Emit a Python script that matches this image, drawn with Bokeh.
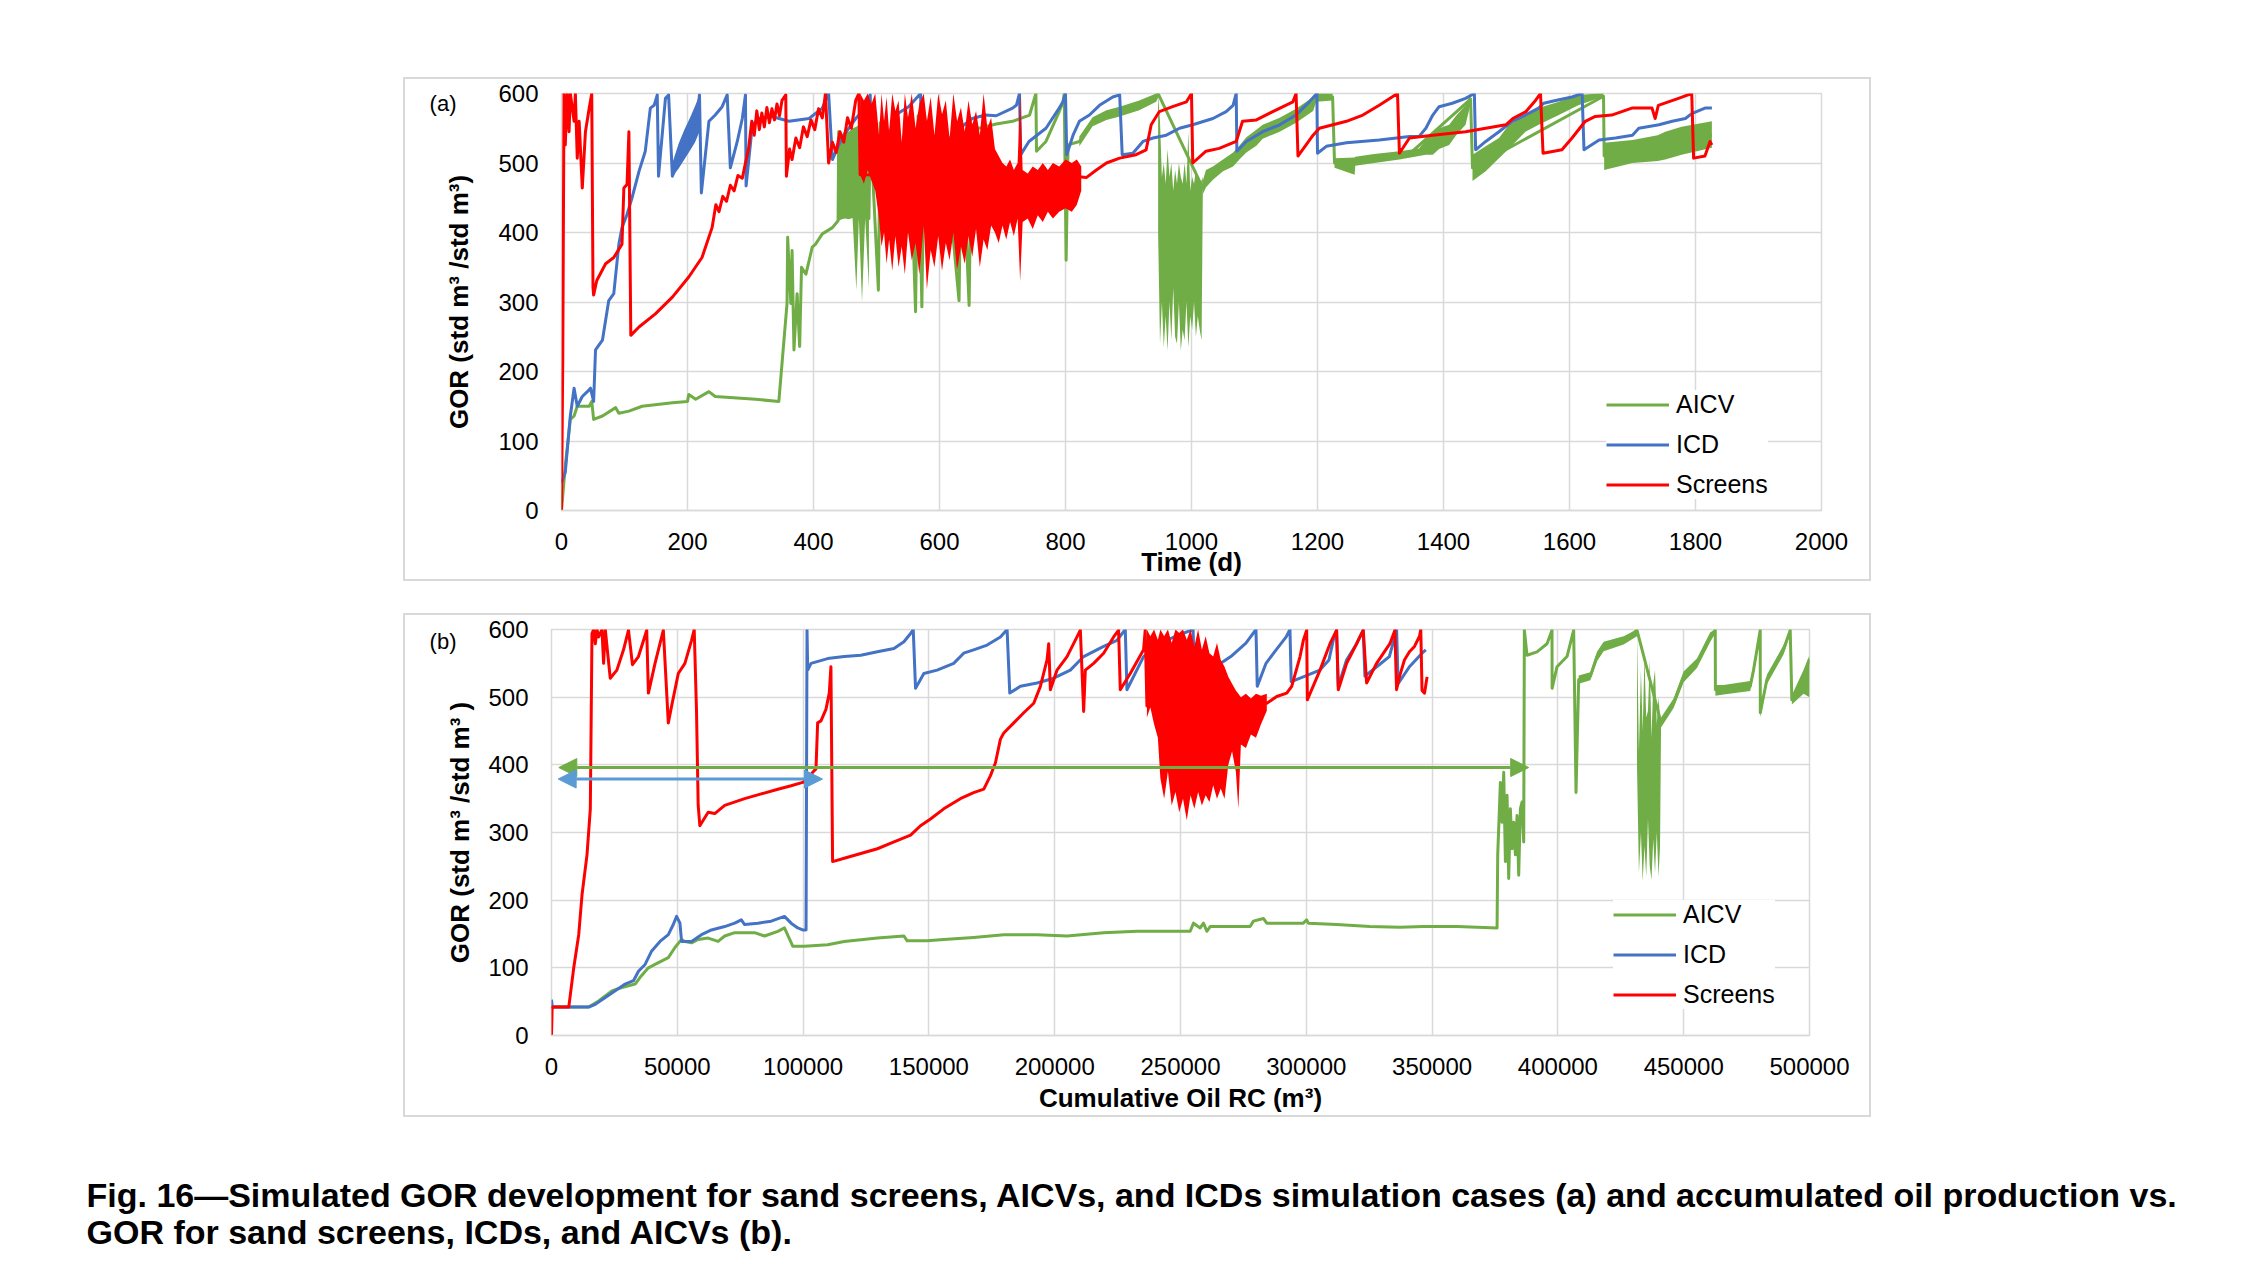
from bokeh.plotting import figure
from bokeh.layouts import column, row
from bokeh.models import (Spacer, Legend, Label, FixedTicker, NumeralTickFormatter,
                          Range1d, Arrow, NormalHead, LinearAxis)
from bokeh.embed import file_html
from bokeh.resources import INLINE

FONT = "Liberation Sans"
GREEN = "#70ad47"
BLUE = "#4472c4"
RED = "#ff0000"
ARROW_BLUE = "#5b9bd5"
GRID = "#d9d9d9"

y_ticks = [0, 100, 200, 300, 400, 500, 600]
a_x_ticks = [0, 200, 400, 600, 800, 1000, 1200, 1400, 1600, 1800, 2000]
b_x_ticks = [0, 50000, 100000, 150000, 200000, 250000, 300000, 350000, 400000, 450000, 500000]
series_names = ["AICV", "ICD", "Screens"]

# ---------------- Panel (a): GOR vs time (d) ----------------
a_aicv_t = [0, 6, 14, 20, 25, 44, 48, 51, 65, 86, 91, 107, 128, 176, 200, 202, 213, 234, 244, 308, 345, 358, 359, 364, 366, 369, 374, 378, 381, 388, 398, 403, 414, 430, 439, 440, 488, 490, 503, 506, 522, 526, 548, 552, 562, 566, 572, 576, 600, 604, 631, 635, 647, 651, 663, 690, 716, 743, 753, 754, 769, 790, 796, 798, 801, 804, 822, 843, 865, 886, 917, 944, 947, 1018, 1050, 1103, 1166, 1198, 1224, 1227, 1346, 1443, 1446, 1654, 1655, 1826]
a_aicv_g = [0, 64, 131, 136, 150, 150, 157, 131, 136, 148, 140, 143, 150, 155, 157, 167, 160, 171, 164, 160, 157, 298, 393, 298, 374, 231, 312, 236, 350, 340, 379, 383, 398, 407, 417, 545, 420, 555, 317, 558, 420, 562, 430, 566, 286, 568, 293, 568, 440, 565, 302, 560, 295, 555, 550, 556, 560, 569, 600, 517, 531, 574, 588, 600, 360, 526, 531, 560, 569, 574, 583, 595, 600, 464, 497, 537, 568, 595, 595, 500, 513, 592, 493, 596, 510, 540]

a_aicv_bands = [
    ([440, 445, 450, 456, 462, 468, 472, 477, 482, 488],
     [417, 419, 420, 419, 421, 317, 420, 300, 420, 321],
     [545, 540, 548, 545, 550, 552, 555, 540, 556, 555]),
    ([822, 843, 865, 886, 917, 944, 947],
     [524, 553, 562, 567, 576, 588, 594],
     [538, 566, 576, 581, 590, 600, 600]),
    ([947, 950, 953, 956, 959, 962, 965, 968, 971, 974, 977, 980, 983, 986, 989, 992, 995, 998, 1001, 1004, 1007, 1010, 1013, 1016, 1018],
     [400, 240, 300, 235, 280, 230, 300, 245, 320, 250, 240, 300, 230, 260, 245, 300, 235, 280, 260, 300, 250, 280, 260, 245, 460],
     [600, 560, 480, 500, 470, 520, 480, 500, 460, 490, 470, 500, 480, 470, 500, 470, 545, 460, 480, 470, 490, 480, 470, 475, 480]),
    ([1018, 1023, 1034, 1050, 1066, 1076, 1087, 1103, 1113, 1140, 1166, 1193, 1198, 1224],
     [455, 465, 476, 488, 495, 505, 515, 525, 535, 545, 558, 575, 588, 590],
     [475, 490, 495, 505, 515, 525, 537, 548, 555, 565, 578, 595, 600, 600]),
    ([1227, 1259, 1260, 1290, 1330, 1361, 1372, 1383, 1393, 1409, 1420, 1435, 1443],
     [493, 483, 496, 500, 505, 510, 512, 512, 520, 526, 540, 555, 585],
     [507, 508, 509, 513, 517, 521, 533, 545, 550, 555, 568, 583, 600]),
    ([1446, 1467, 1488, 1504, 1530, 1551, 1583, 1614, 1646, 1654],
     [474, 488, 507, 521, 545, 555, 569, 583, 593, 593],
     [512, 524, 536, 555, 569, 579, 588, 598, 600, 600]),
    ([1655, 1700, 1740, 1752, 1778, 1826],
     [490, 500, 503, 505, 512, 522],
     [529, 533, 540, 545, 552, 560]),
]

a_icd_t = [0, 1, 6, 14, 20, 25, 33, 41, 46, 51, 54, 65, 75, 83, 91, 96, 104, 112, 123, 133, 141, 147, 152, 154, 165, 170, 176, 186, 202, 215, 219, 222, 234, 244, 255, 263, 268, 279, 287, 292, 293, 303, 313, 334, 361, 393, 414, 424, 430, 445, 467, 482, 490, 493, 509, 520, 530, 551, 570, 572, 585, 599, 625, 652, 673, 690, 716, 722, 727, 729, 742, 769, 790, 796, 800, 802, 812, 822, 838, 854, 875, 886, 890, 907, 923, 939, 960, 981, 1002, 1034, 1055, 1066, 1071, 1072, 1087, 1113, 1140, 1166, 1187, 1199, 1200, 1214, 1246, 1298, 1346, 1361, 1372, 1383, 1393, 1414, 1435, 1449, 1451, 1467, 1488, 1509, 1530, 1551, 1559, 1578, 1604, 1620, 1623, 1647, 1673, 1700, 1710, 1742, 1763, 1784, 1794, 1815, 1826]
a_icd_g = [40, 42, 55, 136, 176, 150, 164, 171, 176, 157, 231, 245, 302, 312, 383, 407, 426, 450, 488, 517, 579, 583, 598, 481, 593, 598, 481, 502, 540, 564, 598, 457, 560, 569, 581, 598, 493, 531, 564, 598, 467, 555, 564, 567, 560, 564, 579, 600, 505, 536, 564, 579, 598, 498, 512, 540, 569, 581, 600, 500, 505, 517, 545, 564, 569, 568, 579, 583, 600, 512, 531, 550, 579, 588, 600, 512, 540, 560, 569, 583, 595, 598, 512, 514, 531, 536, 540, 550, 555, 564, 574, 583, 600, 517, 531, 545, 555, 569, 588, 600, 514, 524, 529, 533, 538, 538, 550, 569, 581, 586, 593, 600, 519, 531, 545, 560, 569, 579, 586, 590, 595, 600, 519, 533, 536, 540, 550, 555, 560, 564, 571, 579, 579]
a_icd_bands = [
    ([176, 186, 195, 204, 212, 219],
     [481, 492, 505, 518, 530, 545],
     [500, 528, 548, 565, 582, 598]),
]

a_scr_t = [0, 2, 4, 6, 9, 12, 14, 20, 22, 25, 28, 33, 38, 44, 48, 50, 51, 56, 70, 83, 96, 99, 104, 107, 110, 123, 149, 176, 202, 223, 239, 245, 250, 256, 262, 268, 274, 280, 287, 292, 297, 302, 306, 310, 314, 318, 322, 326, 330, 334, 338, 342, 346, 350, 356, 357, 362, 366, 372, 378, 384, 390, 396, 402, 408, 414, 419, 424, 430, 436, 442, 448, 454, 460, 467, 472, 474, 825, 833, 849, 865, 886, 912, 928, 936, 949, 970, 992, 1000, 1002, 1023, 1044, 1071, 1081, 1103, 1129, 1161, 1166, 1169, 1193, 1203, 1246, 1272, 1298, 1327, 1330, 1346, 1383, 1435, 1499, 1510, 1531, 1546, 1554, 1558, 1588, 1604, 1625, 1641, 1667, 1699, 1731, 1736, 1741, 1773, 1794, 1797, 1815, 1823, 1826]
a_scr_g = [0, 217, 600, 526, 600, 545, 600, 560, 600, 507, 560, 464, 545, 579, 600, 321, 310, 331, 355, 364, 383, 464, 469, 545, 252, 264, 283, 307, 336, 364, 407, 440, 430, 452, 445, 468, 460, 482, 478, 500, 521, 560, 540, 575, 548, 572, 552, 580, 558, 578, 562, 585, 568, 590, 598, 481, 520, 505, 536, 522, 552, 538, 562, 548, 578, 565, 600, 500, 530, 515, 545, 530, 565, 550, 590, 600, 483, 480, 479, 490, 500, 507, 512, 519, 555, 574, 581, 588, 600, 500, 517, 521, 531, 560, 562, 574, 588, 600, 510, 540, 550, 560, 569, 583, 600, 514, 536, 540, 545, 555, 564, 574, 590, 600, 514, 519, 536, 560, 567, 569, 579, 579, 564, 583, 593, 600, 507, 510, 531, 526]

a_scr_band_t = [474, 480, 486, 492, 498, 504, 508, 512, 516, 520, 525, 530, 535, 540, 545, 550, 556, 562, 568, 575, 580, 586, 592, 598, 604, 610, 616, 622, 628, 634, 640, 646, 652, 658, 664, 670, 676, 682, 688, 694, 700, 706, 712, 718, 724, 728, 732, 740, 748, 756, 764, 772, 780, 790, 800, 810, 818, 825]
a_scr_band_lo = [483, 470, 490, 475, 460, 420, 380, 400, 355, 390, 345, 395, 350, 380, 340, 400, 360, 385, 340, 410, 318, 375, 350, 395, 345, 385, 360, 400, 345, 380, 355, 395, 365, 405, 350, 390, 375, 410, 400, 385, 410, 390, 415, 395, 420, 330, 415, 420, 405, 425, 415, 430, 420, 430, 435, 430, 440, 460]
a_scr_band_hi = [600, 590, 600, 585, 600, 540, 600, 560, 595, 545, 600, 575, 590, 530, 600, 565, 600, 550, 585, 600, 560, 595, 540, 600, 570, 590, 535, 600, 560, 580, 545, 590, 555, 575, 540, 600, 550, 565, 520, 510, 500, 495, 505, 490, 500, 600, 490, 485, 495, 490, 500, 490, 500, 495, 505, 500, 505, 495]

# ---------------- Panel (b): GOR vs cumulative oil (m3) ----------------
b_aicv_x = [0, 14770, 18730, 24010, 27960, 33240, 35220, 38510, 41150, 46430, 49070, 51700, 53020, 55660, 58300, 62260, 66210, 68850, 72810, 80720, 84680, 89960, 92590, 95890, 100510, 109740, 116340, 129530, 140080, 141400, 149310, 155900, 167780, 179760, 192990, 204900, 219450, 232680, 253850, 255170, 257820, 259140, 260460, 261790, 277660, 278980, 282950, 284280, 298830, 300150, 300810, 312060, 325290, 337200, 346690, 359930, 375820, 376080, 377140, 377800, 378470, 379130, 379790, 380450, 381110, 381770, 382440, 383100, 383760, 384420, 385090, 385750, 386410, 386670, 387730, 391700, 395680, 397660, 397700, 399650, 403620, 406270, 407200, 408260, 412890, 415540, 418190, 426130, 431430, 441000, 445990, 449960, 455260, 460560, 462540, 462600, 465850, 476440, 477760, 480410, 480450, 483060, 489680, 492330, 492990, 497620, 500000]
b_aicv_y = [42, 42, 51, 66, 71, 76, 86, 100, 105, 115, 130, 142, 139, 137, 142, 144, 139, 147, 152, 152, 147, 154, 159, 132, 132, 134, 139, 144, 147, 140, 140, 142, 145, 149, 149, 147, 152, 154, 154, 166, 159, 166, 154, 161, 161, 169, 173, 166, 166, 171, 166, 164, 161, 160, 161, 161, 159, 267, 374, 315, 389, 257, 355, 232, 335, 276, 315, 267, 325, 237, 335, 345, 286, 599, 562, 567, 579, 599, 513, 545, 560, 599, 359, 526, 531, 560, 575, 584, 599, 462, 491, 530, 550, 589, 599, 511, 511, 516, 540, 599, 477, 526, 570, 599, 496, 530, 556]

b_aicv_bands = [
    ([408260, 412890, 415540, 418190, 426130, 431430],
     [520, 525, 553, 568, 578, 590],
     [532, 537, 567, 582, 590, 600]),
    ([431430, 432200, 433000, 433700, 434400, 435100, 435800, 436500, 437200, 437900, 438600, 439300, 440000, 440600, 441000],
     [400, 240, 300, 228, 280, 235, 320, 250, 230, 290, 240, 300, 235, 280, 460],
     [599, 420, 540, 450, 560, 470, 480, 555, 440, 520, 540, 460, 500, 470, 470]),
    ([441000, 445990, 449960, 455260, 460560, 462540],
     [455, 484, 522, 543, 582, 594],
     [470, 498, 538, 557, 596, 600]),
    ([462600, 465850, 476440, 477760, 480410],
     [502, 504, 509, 532, 594],
     [518, 518, 524, 548, 600]),
    ([480450, 483060, 489680, 492330],
     [470, 519, 563, 594],
     [484, 533, 577, 600]),
    ([492990, 497620, 500000],
     [489, 505, 500],
     [503, 540, 562]),
]

b_icd_x = [0, 300, 14770, 17410, 21370, 25320, 29280, 32580, 34560, 37200, 39830, 43130, 46430, 48410, 49730, 51050, 51700, 55660, 59620, 63580, 68850, 72810, 75450, 76770, 82040, 87320, 92590, 95230, 97870, 99850, 101170, 101560, 101830, 103150, 109740, 116340, 122930, 129530, 136120, 140080, 142720, 143770, 144690, 147990, 153270, 159860, 163820, 167780, 173140, 178430, 181080, 182140, 186370, 192990, 199600, 206220, 211510, 219450, 224740, 228050, 228710, 235320, 241940, 248000, 255000, 255700, 262000, 270000, 276000, 280000, 280500, 284000, 288000, 292000, 293500, 294000, 298800, 305400, 309000, 310700, 312000, 312700, 316000, 320000, 322600, 323300, 328000, 333000, 335900, 336500, 341000, 346000, 347500]
b_icd_y = [53, 42, 42, 46, 56, 66, 76, 81, 95, 105, 125, 139, 149, 164, 176, 166, 139, 139, 149, 156, 161, 166, 171, 164, 166, 169, 176, 166, 159, 156, 156, 599, 540, 550, 557, 560, 562, 567, 572, 582, 594, 600, 513, 535, 540, 550, 565, 570, 577, 589, 600, 506, 516, 521, 528, 540, 560, 575, 584, 600, 511, 560, 579, 590, 600, 515, 540, 560, 580, 600, 516, 550, 570, 589, 600, 523, 530, 540, 555, 584, 599, 516, 555, 579, 599, 531, 545, 560, 599, 520, 545, 565, 570]

b_scr_x = [0, 260, 6860, 8840, 10820, 12130, 14110, 15430, 16090, 16750, 17410, 18070, 18730, 20050, 20710, 21370, 23350, 25980, 28620, 30600, 32180, 34560, 37850, 38510, 41150, 44450, 46430, 47750, 50390, 53020, 55660, 56720, 57640, 58300, 58960, 62260, 64890, 68850, 76770, 83360, 89960, 95230, 99850, 101830, 103810, 105120, 105780, 107100, 109080, 110400, 111060, 111720, 116340, 122930, 129530, 136120, 142720, 146670, 150630, 155900, 162500, 167780, 171820, 174470, 176450, 178430, 179760, 183730, 187700, 191670, 194310, 196960, 197620, 198280, 200930, 204900, 208860, 210190, 211510, 212170, 215480, 219450, 223420, 225400, 226060, 230030, 235320, 235980, 236650, 284300, 288250, 292220, 294200, 297510, 298830, 300150, 300420, 305440, 309410, 312060, 312720, 316030, 320000, 322640, 323970, 327930, 333220, 335210, 335870, 337000, 339000, 341000, 343000, 345000, 345500, 346000, 347000, 348000]
b_scr_y = [0, 42, 42, 100, 149, 208, 267, 335, 594, 600, 579, 600, 589, 600, 550, 600, 528, 540, 570, 599, 548, 560, 599, 506, 550, 599, 462, 487, 535, 550, 584, 600, 479, 340, 310, 330, 328, 340, 350, 357, 364, 369, 374, 379, 389, 394, 462, 465, 482, 506, 545, 257, 262, 269, 276, 286, 296, 310, 320, 335, 350, 359, 364, 384, 403, 438, 447, 462, 477, 491, 516, 555, 579, 511, 540, 560, 589, 599, 479, 540, 550, 565, 589, 599, 511, 535, 570, 599, 487, 491, 501, 506, 516, 560, 584, 599, 496, 540, 579, 599, 511, 550, 579, 599, 521, 550, 579, 599, 511, 530, 555, 567, 575, 590, 600, 510, 506, 530]

b_scr_band_x = [236650, 238000, 239500, 241000, 242000, 243500, 245000, 246500, 248000, 249500, 251000, 252500, 254000, 255500, 257000, 258500, 260000, 261500, 263000, 264500, 266000, 267500, 269000, 270500, 272000, 273000, 274000, 276000, 278000, 280000, 282000, 284300]
b_scr_band_lo = [470, 485, 460, 440, 380, 350, 390, 340, 360, 330, 350, 318, 355, 335, 360, 340, 355, 345, 370, 350, 365, 350, 400, 420, 390, 335, 430, 425, 445, 440, 460, 480]
b_scr_band_hi = [600, 590, 600, 585, 600, 590, 600, 580, 600, 595, 600, 585, 600, 575, 600, 570, 590, 565, 560, 580, 555, 545, 530, 520, 510, 505, 500, 505, 498, 505, 502, 505]

# double-headed arrows in panel (b): [x_start, x_end, y]
arrow_aicv = [2900, 388400, 396]
arrow_icd = [2640, 107700, 379]

caption_lines = [
    "Fig. 16\u2014Simulated GOR development for sand screens, AICVs, and ICDs simulation cases (a) and accumulated oil production vs.",
    "GOR for sand screens, ICDs, and AICVs (b).",
]


def make_panel(xmax, xticks, w, h, ml, mr, mt, mb, xlabel, ylabel,
               y_tick_standoff, y_label_standoff, x_tick_standoff, x_label_standoff):
    p = figure(width=w, height=h, x_range=Range1d(0, xmax), y_range=Range1d(0, 600),
               output_backend="svg", toolbar_location=None,
               min_border_left=ml, min_border_right=mr, min_border_top=mt, min_border_bottom=mb)
    p.styles = {"border": "2px solid #d9d9d9"}
    p.background_fill_color = "white"
    p.border_fill_color = "white"
    p.outline_line_color = GRID
    p.outline_line_width = 1.5
    p.xaxis.ticker = FixedTicker(ticks=xticks)
    p.yaxis.ticker = FixedTicker(ticks=y_ticks)
    p.xgrid.ticker = FixedTicker(ticks=xticks)
    p.ygrid.ticker = FixedTicker(ticks=y_ticks)
    p.grid.grid_line_color = GRID
    p.grid.grid_line_width = 1.5
    for ax in (p.xaxis[0], p.yaxis[0]):
        ax.major_tick_line_color = None
        ax.minor_tick_line_color = None
        ax.major_label_text_font = FONT
        ax.major_label_text_font_size = "24px"
        ax.major_label_text_color = "black"
        ax.axis_label_text_font = FONT
        ax.axis_label_text_font_size = "26px"
        ax.axis_label_text_font_style = "bold"
        ax.axis_label_text_color = "black"
    p.xaxis.axis_line_color = GRID
    p.xaxis.axis_line_width = 1.5
    p.yaxis.axis_line_color = None
    p.xaxis.axis_label = xlabel
    p.yaxis.axis_label = ylabel
    p.xaxis.major_label_standoff = x_tick_standoff
    p.xaxis.axis_label_standoff = x_label_standoff
    p.yaxis.major_label_standoff = y_tick_standoff
    p.yaxis.axis_label_standoff = y_label_standoff
    p.xaxis.formatter = NumeralTickFormatter(format="0")
    return p


def add_series(p, x, y, bands, color):
    for bx, blo, bhi in bands:
        p.varea(x=bx, y1=blo, y2=bhi, fill_color=color)
    return p.line(x, y, line_color=color, line_width=3, line_join="round")


def add_legend(p, renderers, loc):
    lg = Legend(items=[(n, [r]) for n, r in zip(series_names, renderers)], location=loc,
                label_text_font=FONT, label_text_font_size="25px", label_text_color="black",
                glyph_width=63, glyph_height=29, label_height=29, spacing=11, padding=10,
                label_standoff=7, background_fill_color="white", background_fill_alpha=1.0,
                border_line_color=None)
    p.add_layout(lg)


def panel_tag(p, text, at_value, standoff):
    # the panel tag "(a)"/"(b)" is written as the only label of an extra, line-less left axis
    tag = LinearAxis(ticker=FixedTicker(ticks=[at_value]),
                     major_label_overrides={at_value: text},
                     axis_line_color=None, major_tick_line_color=None,
                     minor_tick_line_color=None, major_label_standoff=standoff,
                     major_label_text_font=FONT, major_label_text_font_size="22px",
                     major_label_text_color="black")
    p.add_layout(tag, "left")


# Panel (a)
pa = make_panel(2000, a_x_ticks, 1468, 504, 156, 52, 14, 73, "Time (d)",
                "GOR (std m\u00b3 /std m\u00b3)", 17, 21, 16, -6)
ra_g = add_series(pa, a_aicv_t, a_aicv_g, a_aicv_bands, GREEN)
ra_b = add_series(pa, a_icd_t, a_icd_g, a_icd_bands, BLUE)
ra_r = add_series(pa, a_scr_t, a_scr_g, [(a_scr_band_t, a_scr_band_lo, a_scr_band_hi)], RED)
add_legend(pa, [ra_g, ra_b, ra_r], (1045, 11))
panel_tag(pa, "(a)", 586, -21)

# Panel (b)
pb = make_panel(500000, b_x_ticks, 1468, 504, 146, 64, 14, 84, "Cumulative Oil RC (m\u00b3)",
                "GOR (std m\u00b3 /std m\u00b3 )", 17, 10, 16, 5)
rb_g = add_series(pb, b_aicv_x, b_aicv_y, b_aicv_bands, GREEN)
rb_b = add_series(pb, b_icd_x, b_icd_y, [], BLUE)
rb_r = add_series(pb, b_scr_x, b_scr_y, [(b_scr_band_x, b_scr_band_lo, b_scr_band_hi)], RED)
add_legend(pb, [rb_g, rb_b, rb_r], (1062, 26))
panel_tag(pb, "(b)", 582, -20)
for arr, col in ((arrow_aicv, GREEN), (arrow_icd, ARROW_BLUE)):
    pb.add_layout(Arrow(start=NormalHead(size=18, fill_color=col, line_color=col),
                        end=NormalHead(size=18, fill_color=col, line_color=col),
                        x_start=arr[0], y_start=arr[2], x_end=arr[1], y_end=arr[2],
                        line_color=col, line_width=3))

# Caption
cap = figure(width=2234, height=139, x_range=Range1d(0, 2234), y_range=Range1d(0, 139),
             output_backend="svg", toolbar_location=None, min_border=0,
             x_axis_location=None, y_axis_location=None)
cap.grid.visible = False
cap.outline_line_color = None
cap.background_fill_color = "white"
cap.border_fill_color = "white"
for i, line in enumerate(caption_lines):
    cap.add_layout(Label(x=86, y=62 - 37 * i, x_units="screen", y_units="screen", text=line,
                         text_baseline="middle", text_font=FONT, text_font_style="bold",
                         text_font_size="34px", text_color="black"))

layout = column(
    Spacer(width=10, height=77),
    row(Spacer(width=403, height=504), pa),
    Spacer(width=10, height=32),
    row(Spacer(width=403, height=504), pb),
    cap,
)

open("out.html", "w").write(file_html(layout, INLINE))
